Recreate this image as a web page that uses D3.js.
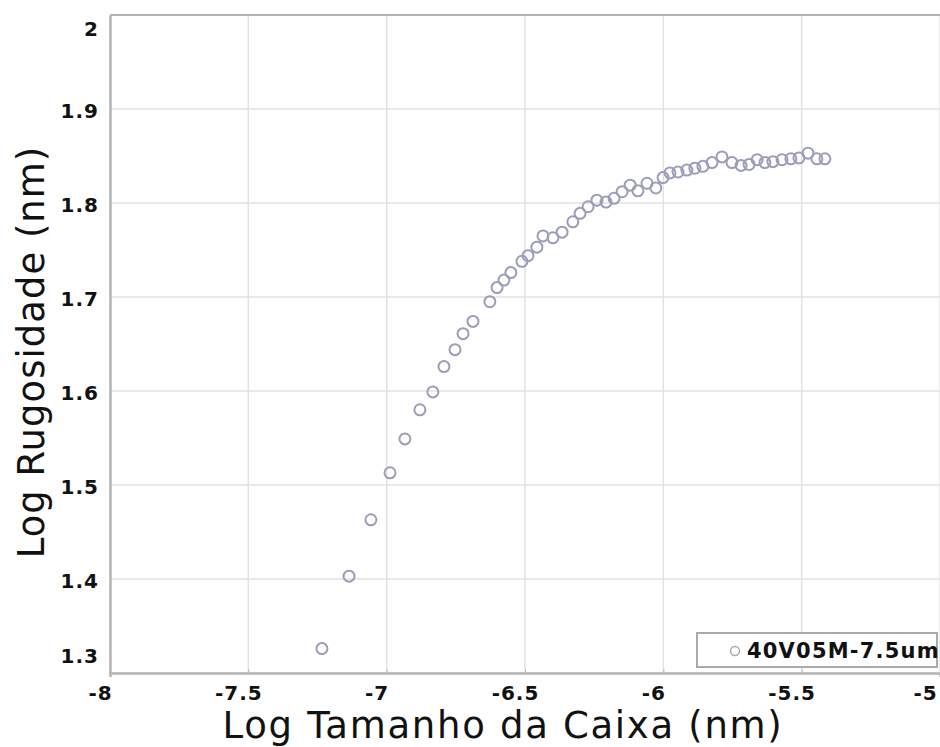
<!DOCTYPE html>
<html>
<head>
<script src="https://d3js.org/d3.v7.min.js"></script>
<style>
  body { margin: 0; background: #fff; }
  text { font-family: "DejaVu Sans", sans-serif; }
</style>
</head>
<body>
<script>

// data
var seriesName = "40V05M-7.5um";
var xValues = [-7.234, -7.136, -7.057, -6.988, -6.934, -6.880, -6.833, -6.793, -6.753, -6.724,
               -6.688, -6.627, -6.601, -6.576, -6.551, -6.511, -6.489, -6.457, -6.435, -6.399,
               -6.366, -6.327, -6.301, -6.272, -6.240, -6.207, -6.178, -6.149, -6.120, -6.092,
               -6.059, -6.027, -6.001, -5.976, -5.947, -5.915, -5.886, -5.857, -5.824, -5.788,
               -5.752, -5.719, -5.690, -5.661, -5.633, -5.604, -5.571, -5.539, -5.510, -5.477,
               -5.445, -5.416];
var yValues = [1.326, 1.403, 1.463, 1.513, 1.549, 1.580, 1.599, 1.626, 1.644, 1.661,
               1.674, 1.695, 1.710, 1.718, 1.726, 1.738, 1.744, 1.753, 1.765, 1.763,
               1.769, 1.780, 1.789, 1.796, 1.803, 1.801, 1.805, 1.812, 1.819, 1.813,
               1.821, 1.816, 1.827, 1.832, 1.833, 1.835, 1.837, 1.839, 1.843, 1.849,
               1.843, 1.840, 1.841, 1.846, 1.843, 1.844, 1.846, 1.847, 1.848, 1.853,
               1.847, 1.847];
var xTicks = [-8, -7.5, -7, -6.5, -6, -5.5, -5];
var xTickLabels = ["-8", "-7.5", "-7", "-6.5", "-6", "-5.5", "-5"];
var yTicks = [1.3, 1.4, 1.5, 1.6, 1.7, 1.8, 1.9, 2];
var yTickLabels = ["1.3", "1.4", "1.5", "1.6", "1.7", "1.8", "1.9", "2"];

var margin = {top: 15, right: 0, bottom: 74, left: 110},
    width = 940 - margin.left - margin.right,
    height = 747 - margin.top - margin.bottom;

var x = d3.scaleLinear().domain([-8, -5]).range([0, width]);
var y = d3.scaleLinear().domain([1.3, 2]).range([height, 0]);

var svg = d3.select("body").append("svg")
    .attr("width", 940)
    .attr("height", 747)
  .append("g")
    .attr("transform", "translate(" + margin.left + "," + margin.top + ")");

// grid lines
svg.append("g")
    .selectAll("line.vg")
    .data(xTicks)
    .enter().append("line")
    .attr("x1", function(d) { return x(d); })
    .attr("x2", function(d) { return x(d); })
    .attr("y1", 0).attr("y2", height)
    .attr("stroke", "#e2e2e2")
    .attr("stroke-width", 1.5);

svg.append("g")
    .selectAll("line.hg")
    .data(yTicks)
    .enter().append("line")
    .attr("x1", 0).attr("x2", width)
    .attr("y1", function(d) { return y(d); })
    .attr("y2", function(d) { return y(d); })
    .attr("stroke", "#e2e2e2")
    .attr("stroke-width", 1.5);

// top border
svg.append("line").attr("x1", 0).attr("x2", width).attr("y1", 0).attr("y2", 0)
    .attr("stroke", "#b5b5b5").attr("stroke-width", 2);

// X axis
var xAxis = d3.axisBottom(x)
    .tickValues(xTicks)
    .tickSize(4)
    .tickFormat(function(d, i) { return xTickLabels[i]; });

var gx = svg.append("g")
    .attr("transform", "translate(0," + height + ")")
    .call(xAxis);
gx.select(".domain").attr("stroke", "#b5b5b5").attr("stroke-width", 2.5);
gx.selectAll(".tick line").attr("stroke", "#bbb").attr("transform", "translate(0,-4)");
gx.selectAll("text")
    .attr("y", 13)
    .attr("dx", function(d) { return d === -5 ? -15 : -10; })
    .style("font-size", "20px")
    .style("font-weight", "bold")
    .style("letter-spacing", "1px")
    .attr("fill", "#111");

// Y axis
var yAxis = d3.axisLeft(y)
    .tickValues(yTicks)
    .tickSize(0)
    .tickFormat(function(d, i) { return yTickLabels[i]; });

var gy = svg.append("g").call(yAxis);
gy.select(".domain").attr("stroke", "#b5b5b5").attr("stroke-width", 2.5);
gy.selectAll("text")
    .attr("x", -11)
    .attr("dy", function(d) { return d === 2 ? "1.0em" : (d === 1.3 ? "-0.55em" : "0.4em"); })
    .style("font-size", "20px")
    .style("font-weight", "bold")
    .style("letter-spacing", "1px")
    .attr("fill", "#111");

// points
var pts = xValues.map(function(v, i) { return {x: v, y: yValues[i]}; });

svg.append("g")
    .selectAll("circle")
    .data(pts)
    .enter().append("circle")
    .attr("cx", function(d) { return x(d.x); })
    .attr("cy", function(d) { return y(d.y); })
    .attr("r", 5.5)
    .attr("fill", "none")
    .attr("stroke", "#9c9cbb")
    .attr("stroke-width", 2);

// legend
var legend = svg.append("g")
    .attr("transform", "translate(" + (width - 243) + "," + (height - 40) + ")");
legend.append("rect")
    .attr("width", 240).attr("height", 34)
    .attr("fill", "#fff")
    .attr("stroke", "#aaa")
    .attr("stroke-width", 2);
legend.append("circle")
    .attr("cx", 38).attr("cy", 18).attr("r", 4.5)
    .attr("fill", "none").attr("stroke", "#aaa").attr("stroke-width", 1.5);
legend.append("text")
    .attr("x", 50).attr("y", 25)
    .style("font-size", "21px")
    .style("font-weight", "bold")
    .style("letter-spacing", "1.2px")
    .attr("fill", "#111")
    .text(seriesName);

// axis titles
svg.append("text")
    .attr("x", 393)
    .attr("y", height + 65)
    .style("text-anchor", "middle")
    .style("font-size", "37px")
    .style("letter-spacing", "1.7px")
    .attr("fill", "#111")
    .text("Log Tamanho da Caixa (nm)");

svg.append("text")
    .attr("transform", "rotate(-90)")
    .attr("x", -337)
    .attr("y", -66)
    .style("text-anchor", "middle")
    .style("font-size", "37px")
    .style("letter-spacing", "1px")
    .attr("fill", "#111")
    .text("Log Rugosidade (nm)");

</script>
</body>
</html>
